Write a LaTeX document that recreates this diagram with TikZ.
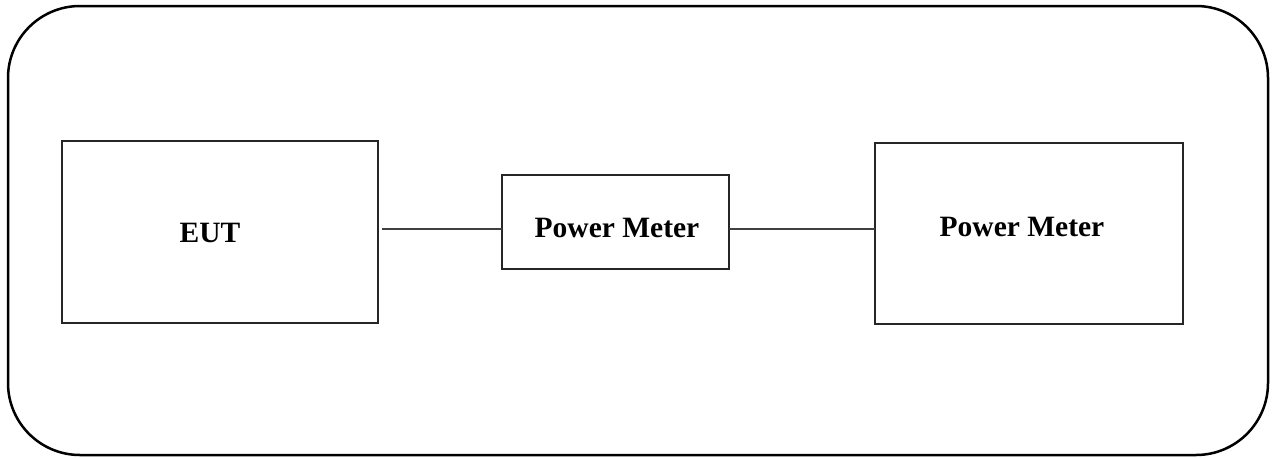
\documentclass[tikz,border=0pt]{standalone}
\usepackage{fontspec}
\setmainfont{Liberation Serif}
\begin{document}
\begin{tikzpicture}[x=1pt,y=-1pt,
  boxstyle/.style={draw=black!85,line width=1.8pt,rectangle,inner sep=0pt,outer sep=0pt,anchor=north west},
  labelstyle/.style={font=\fontsize{29.5}{34}\selectfont\bfseries,inner sep=0pt},
  wire/.style={draw=black!75,line width=1.1pt}]
\useasboundingbox (0,0) rectangle (1274,458);
\draw[line width=2.5pt,rounded corners=72pt] (8,6) rectangle (1268,455);
\node[boxstyle,minimum width=316pt,minimum height=182pt] (eut) at (62,141) {};
\node[boxstyle,minimum width=227pt,minimum height=94pt] (pm1) at (502,175) {};
\node[boxstyle,minimum width=308pt,minimum height=181pt] (pm2) at (875,143) {};
\node[labelstyle] (teut) at (210,233) {EUT};
\node[labelstyle] (tpm1) at (617,228) {Power Meter};
\node[labelstyle] (tpm2) at (1022,227) {Power Meter};
\coordinate (l1) at (382,229);
\draw[wire] (l1) -- (l1 -| pm1.west);
\draw[wire] (l1 -| pm1.east) -- (l1 -| pm2.west);
\end{tikzpicture}
\end{document}
